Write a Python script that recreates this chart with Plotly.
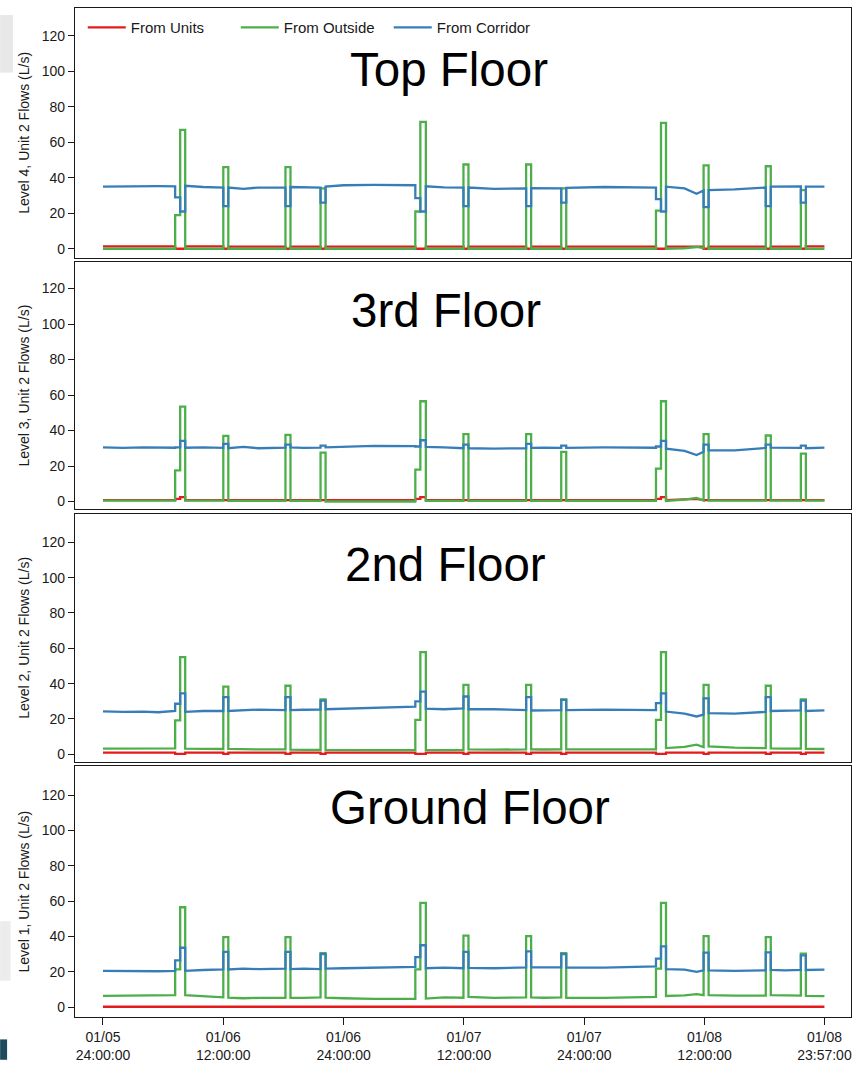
import plotly.graph_objects as go
from plotly.subplots import make_subplots

# ---------------- data (hours since 01/05 24:00) ----------------
HOURS = [0, 2, 4, 5.5, 7.2,
         7.2, 7.7, 7.7, 8.2,
         8.2, 10, 12.0,
         12.0, 12.5,
         12.5, 14, 15.5, 18.2,
         18.2, 18.7,
         18.7, 20, 21.7,
         21.7, 22.2,
         22.2, 24, 27, 31.15,
         31.15, 31.65, 31.65, 32.2,
         32.2, 34, 35.95,
         35.95, 36.45,
         36.45, 39, 42.2,
         42.2, 42.7,
         42.7, 44, 45.7,
         45.7, 46.2,
         46.2, 50, 55.15,
         55.15, 55.65, 55.65, 56.15,
         56.15, 58, 59.2, 59.9,
         59.9, 60.4,
         60.4, 63, 66.1,
         66.1, 66.6,
         66.6, 68, 69.6,
         69.6, 70.1,
         70.1, 71.95]

# Level 4 (Top Floor)
L4_UNITS = [1.4, 1.4, 1.4, 1.4, 1.4,
            0, 0, 0, 0,
            1.3, 1.3, 1.3,
            0, 0,
            1.2, 1.2, 1.2, 1.2,
            0, 0,
            1.2, 1.2, 1.2,
            0, 0,
            1.2, 1.2, 1.2, 1.2,
            0, 0, 0, 0,
            1.2, 1.2, 1.2,
            0, 0,
            1.2, 1.2, 1.2,
            0, 0,
            1.2, 1.2, 1.2,
            0, 0,
            1.2, 1.2, 1.2,
            0, 0, 0, 0,
            1.2, 1.2, 1.2, 1.2,
            0, 0,
            1.2, 1.2, 1.2,
            0, 0,
            1.2, 1.2, 1.2,
            0, 0,
            1.3, 1.3]
L4_OUTSIDE = [0, 0, 0, 0, 0,
              19, 19, 67, 67,
              0, 0, 0,
              46, 46,
              0, 0, 0, 0,
              46, 46,
              0, 0, 0,
              34, 34,
              0, 0, 0, 0,
              21, 21, 71.5, 71.5,
              0, 0, 0,
              47.5, 47.5,
              0, 0, 0,
              47.5, 47.5,
              0, 0, 0,
              34, 34,
              0, 0, 0,
              21.5, 21.5, 71, 71,
              0, 0.3, 1, 0.3,
              47, 47,
              0, 0, 0,
              46.5, 46.5,
              0, 0, 0,
              33, 33,
              0, 0]
L4_CORRIDOR = [35, 35.2, 35.5, 35.3, 35.2,
               29, 29, 21, 21,
               35.5, 34.8, 34.5,
               24, 24,
               34.5, 33.8, 34.5, 34.5,
               24, 24,
               34.8, 34.6, 34.5,
               26, 26,
               35, 35.8, 36, 35.8,
               28.5, 28.5, 21, 21,
               35.2, 34.6, 34.5,
               24, 24,
               34.5, 33.8, 34,
               24, 24,
               34.2, 34.2, 34,
               26, 26,
               34.3, 34.8, 34.5,
               28, 28, 21, 21,
               35, 34, 31, 32.8,
               23.5, 23.5,
               33, 33.5, 34.5,
               24, 24,
               35, 35, 35.2,
               26, 26,
               35, 35]

# Level 3 (3rd Floor)
L3_UNITS = [0.8, 0.8, 0.8, 0.8, 0.8,
            1.5, 1.5, 2.5, 2.5,
            0.8, 0.8, 0.8,
            0.8, 0.8,
            0.8, 0.8, 0.8, 0.8,
            0.8, 0.8,
            0.8, 0.8, 0.8,
            0.8, 0.8,
            0.8, 0.8, 0.8, 0.8,
            1.5, 1.5, 2.5, 2.5,
            0.8, 0.8, 0.8,
            0.8, 0.8,
            0.8, 0.8, 0.8,
            0.8, 0.8,
            0.8, 0.8, 0.8,
            0.8, 0.8,
            0.8, 0.8, 0.8,
            1.5, 1.5, 2.5, 2.5,
            0.8, 1.0, 1.5, 0.8,
            0.8, 0.8,
            0.8, 0.8, 0.8,
            0.8, 0.8,
            0.8, 0.8, 0.8,
            0.8, 0.8,
            0.8, 0.8]
L3_OUTSIDE = [0.5, 0.5, 0.5, 0.5, 0.5,
              17.5, 17.5, 53.5, 53.5,
              0.5, 0.5, 0.5,
              37, 37,
              0.4, 0.3, 0.3, 0.3,
              37.5, 37.5,
              0.3, 0.3, 0.3,
              27.5, 27.5,
              0, 0, 0, 0,
              18, 18, 56.5, 56.5,
              0.3, 0.3, 0.3,
              38, 38,
              0.3, 0.3, 0.3,
              38, 38,
              0.3, 0.3, 0.3,
              28, 28,
              0.3, 0.3, 0.3,
              18.5, 18.5, 56.5, 56.5,
              0.3, 1, 2, 0.5,
              38, 38,
              0.5, 0.5, 0.5,
              37.2, 37.2,
              0.5, 0.5, 0.5,
              27, 27,
              0.5, 0.5]
L3_CORRIDOR = [30.5, 30.2, 30.5, 30.3, 30.3,
               30.5, 30.5, 34.2, 34.2,
               30.3, 30.5, 30.2,
               32.5, 32.5,
               30, 30.8, 30, 30.3,
               32, 32,
               30.5, 30.2, 30.3,
               31.5, 31.5,
               30.5, 30.8, 31.3, 31.2,
               31, 31, 34.5, 34.5,
               30.8, 30.5, 30,
               32, 32,
               30, 29.8, 30,
               32.5, 32.5,
               30.2, 30.3, 30.2,
               31.5, 31.5,
               30.2, 30.5, 30.3,
               31, 31, 34.2, 34.2,
               29.8, 28.5, 26.2, 28,
               32, 32,
               28.8, 28.8, 30.2,
               32, 32,
               30.3, 30.3, 30.2,
               31.5, 31.5,
               30, 30.3]

# Level 2 (2nd Floor)
L2_UNITS = [0.9, 0.9, 0.9, 0.9, 0.9,
            0.2, 0.2, 0.2, 0.2,
            0.9, 0.9, 0.9,
            0.2, 0.2,
            0.9, 0.9, 0.9, 0.9,
            0.2, 0.2,
            0.9, 0.9, 0.9,
            0.2, 0.2,
            0.9, 0.9, 0.9, 0.9,
            0.2, 0.2, 0.2, 0.2,
            0.9, 0.9, 0.9,
            0.2, 0.2,
            0.9, 0.9, 0.9,
            0.2, 0.2,
            0.9, 0.9, 0.9,
            0.2, 0.2,
            0.9, 0.9, 0.9,
            0.2, 0.2, 0.2, 0.2,
            0.9, 0.9, 0.9, 0.9,
            0.2, 0.2,
            0.9, 0.9, 0.9,
            0.2, 0.2,
            0.9, 0.9, 0.9,
            0.2, 0.2,
            0.9, 0.9]
L2_OUTSIDE = [3.2, 3.3, 3.2, 3.4, 3.3,
              19.2, 19.2, 55, 55,
              3.2, 3, 3,
              38.3, 38.3,
              3, 2.8, 2.8, 2.8,
              38.8, 38.8,
              2.6, 2.5, 2.5,
              31, 31,
              2.5, 2.3, 2.3, 2.3,
              19.5, 19.5, 57.8, 57.8,
              2.5, 2.3, 2.5,
              39.3, 39.3,
              2.8, 2.6, 2.8,
              39.3, 39.3,
              2.8, 2.7, 2.8,
              31, 31,
              2.8, 2.7, 2.8,
              19.5, 19.5, 57.8, 57.8,
              3.5, 4.2, 5.4, 4,
              39.3, 39.3,
              4.5, 3.8, 3.5,
              38.8, 38.8,
              3.3, 3.2, 3.2,
              31, 31,
              3.1, 3]
L2_CORRIDOR = [24.3, 24, 24.2, 23.8, 24.5,
               28.6, 28.6, 34.5, 34.5,
               24, 24.5, 24.5,
               32.3, 32.3,
               24.5, 24.8, 25.3, 25,
               32.3, 32.3,
               25, 25.2, 25.3,
               30.4, 30.4,
               25.5, 25.8, 26.5, 27,
               30, 30, 35.5, 35.5,
               25.8, 25.5, 26,
               32.7, 32.7,
               25.5, 25.5, 25,
               32.3, 32.3,
               24.8, 25, 25,
               30.8, 30.8,
               25, 25.3, 25,
               29, 29, 34.5, 34.5,
               24.2, 23, 21.4, 22.5,
               31.7, 31.7,
               23.3, 23, 24,
               32.3, 32.3,
               24.5, 24.8, 24.8,
               30.4, 30.4,
               24.5, 24.8]

# Level 1 (Ground Floor)
L1_UNITS = [0.2] * 73
L1_OUTSIDE = [6.3, 6.5, 6.6, 6.8, 6.8,
              21.4, 21.4, 56.5, 56.5,
              6.8, 6, 5.5,
              39.6, 39.6,
              5.3, 5, 5.2, 5.3,
              39.6, 39.6,
              5.3, 5.2, 5.5,
              30.5, 30.5,
              5.3, 5, 4.6, 4.6,
              21.4, 21.4, 59, 59,
              4.8, 5.5, 5.3,
              40.5, 40.5,
              5.8, 5.2, 5.5,
              40.2, 40.2,
              5.5, 5.3, 5.5,
              30.6, 30.6,
              5.3, 5.2, 5.8,
              21.8, 21.8, 59, 59,
              6.3, 6.6, 7.3, 6.8,
              40.2, 40.2,
              6.8, 6.5, 6.5,
              39.6, 39.6,
              6.8, 6.5, 6.5,
              30.3, 30.3,
              6.4, 6.2]
L1_CORRIDOR = [20.5, 20.3, 20.5, 20.3, 20.5,
               26.5, 26.5, 33.6, 33.6,
               20.5, 21, 21.3,
               31.2, 31.2,
               21.3, 21.8, 21.5, 21.8,
               31.2, 31.2,
               21.5, 21.8, 21.5,
               30, 30,
               21.8, 22, 22.3, 22.8,
               28.3, 28.3, 35, 35,
               22, 22.3, 22,
               31.2, 31.2,
               22.2, 22, 22.5,
               31.5, 31.5,
               22.5, 22.5, 22.5,
               30, 30,
               22.3, 22.3, 23,
               27.4, 27.4, 34.4, 34.4,
               21.5, 21.2, 20, 20.8,
               30.8, 30.8,
               20.8, 20.5, 20.8,
               31, 31,
               21, 20.8, 21,
               29.3, 29.3,
               21, 21.2]

SERIES_NAMES = ["From Units", "From Outside", "From Corridor"]
COLORS = ["#E41A1C", "#4DAF4A", "#377EB8"]
PANELS = [
    ("Top Floor", "Level 4, Unit 2 Flows (L/s)", [L4_UNITS, L4_OUTSIDE, L4_CORRIDOR]),
    ("3rd Floor", "Level 3, Unit 2 Flows (L/s)", [L3_UNITS, L3_OUTSIDE, L3_CORRIDOR]),
    ("2nd Floor", "Level 2, Unit 2 Flows (L/s)", [L2_UNITS, L2_OUTSIDE, L2_CORRIDOR]),
    ("Ground Floor", "Level 1, Unit 2 Flows (L/s)", [L1_UNITS, L1_OUTSIDE, L1_CORRIDOR]),
]
# layout of the four stacked panels (paper fractions) and their value ranges
DOMAINS = [[0.7525, 1.0], [0.5030, 0.7485], [0.2525, 0.4990], [0.0, 0.2485]]
Y_RANGES = [[-5.05, 135.7], [-4.5, 135.1], [-4.5, 136.3], [-5.6, 136.3]]
TITLE_X = [0.482, 0.478, 0.478, 0.509]
TITLE_Y = [0.9389, 0.7002, 0.4487, 0.2081]

X_TICKS = [0, 12, 24, 36, 48, 60, 71.95]
X_TICKTEXT = ["01/05<br>24:00:00", "01/06<br>12:00:00", "01/06<br>24:00:00",
              "01/07<br>12:00:00", "01/07<br>24:00:00", "01/08<br>12:00:00",
              "01/08<br>23:57:00"]
Y_TICKS = [0, 20, 40, 60, 80, 100, 120]

# ---------------- figure ----------------
fig = make_subplots(rows=4, cols=1, shared_xaxes=False, vertical_spacing=0.0048)
FONT = "Liberation Sans, Arial, sans-serif"
INK = "#1a1a1a"

for i, (title, ytitle, series) in enumerate(PANELS):
    row = i + 1
    for j, vals in enumerate(series):
        fig.add_trace(go.Scatter(x=HOURS, y=vals, mode="lines", name=SERIES_NAMES[j],
                                 line=dict(color=COLORS[j], width=2.3),
                                 showlegend=(i == 0)), row=row, col=1)
    fig.update_yaxes(row=row, col=1, range=Y_RANGES[i], domain=DOMAINS[i], tickvals=Y_TICKS,
                     ticks="outside", ticklen=6, tickcolor=INK, tickwidth=1,
                     showline=True, mirror=True, linecolor=INK, linewidth=1.2,
                     showgrid=False, zeroline=False,
                     tickfont=dict(size=14, color=INK, family=FONT),
                     title=dict(text=ytitle, font=dict(size=14, color=INK, family=FONT), standoff=8))
    fig.update_xaxes(row=row, col=1, range=[-2.79, 74.6],
                     showline=True, mirror=True, linecolor=INK, linewidth=1.2,
                     showgrid=False, zeroline=False,
                     tickvals=X_TICKS, ticktext=X_TICKTEXT,
                     ticks="outside" if row == 4 else "", ticklen=7, tickcolor=INK,
                     showticklabels=(row == 4),
                     tickfont=dict(size=14, color=INK, family=FONT))
    fig.add_annotation(text=title, xref="paper", yref="paper", x=TITLE_X[i], y=TITLE_Y[i],
                       xanchor="center", yanchor="middle", showarrow=False,
                       font=dict(size=47.5, color="black", family=FONT))

# screenshot artefacts at the left edge of the reference image
fig.add_shape(type="rect", xref="paper", yref="paper", x0=-0.0965, x1=-0.080,
              y0=0.936, y1=0.993, fillcolor="#e8e8e8", line_width=0, layer="below")
fig.add_shape(type="rect", xref="paper", yref="paper", x0=-0.0965, x1=-0.083,
              y0=0.036, y1=0.095, fillcolor="#ececec", line_width=0, layer="below")
fig.add_shape(type="rect", xref="paper", yref="paper", x0=-0.0965, x1=-0.0875,
              y0=-0.0424, y1=-0.0222, fillcolor="#1d4a5c", line_width=0, layer="below")

fig.update_layout(
    width=854, height=1065,
    margin=dict(l=75, r=2, t=8, b=43),
    plot_bgcolor="white", paper_bgcolor="white",
    font=dict(family=FONT, color=INK),
    legend=dict(orientation="h", x=0.01, y=0.997, xanchor="left", yanchor="top",
                bgcolor="rgba(0,0,0,0)", font=dict(size=15, color=INK, family=FONT),
                entrywidth=100, entrywidthmode="pixels", itemwidth=38),
)

fig.write_html("out.html")
